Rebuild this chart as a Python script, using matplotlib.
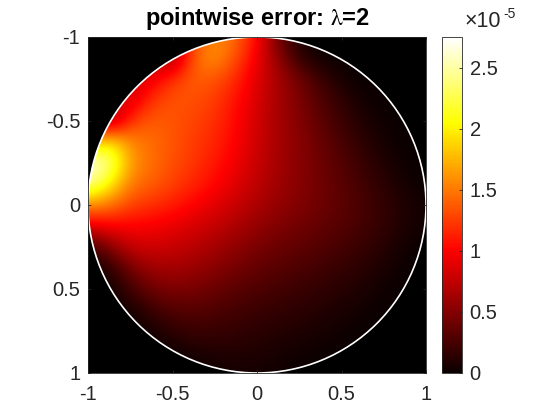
import numpy as np
import matplotlib
matplotlib.use('Agg')
import matplotlib.pyplot as plt
from matplotlib.patches import Circle

plt.rcParams['font.family'] = ['Liberation Sans', 'DejaVu Sans']
plt.rcParams['mathtext.fontset'] = 'stix'

# grid positions of the error readings
x_pos = [-1, -.875, -.75, -.625, -.5, -.375, -.25, -.125, 0, .125, .25, .375, .5, .625, .75, .875, 1]
y_pos = [-1, -.875, -.75, -.625, -.5, -.375, -.25, -.125, 0, .125, .25, .375, .5, .625, .75, .875, 1]

# error, in units of 1e-5, one row per y position
row_m100 = [1.2, 1.2, 1.2, 1.1, .8, 1.3, 1.55, 1.45, 1.05, .4, .05, 0, 0, 0, 0, 0, 0]
row_m088 = [1.2, 1.2, 1.2, .8, .45, 1.4, 1.65, 1.32, .95, .55, .15, .02, 0, 0, 0, 0, 0]
row_m075 = [1.2, 1.2, .8, .9, 1.2, 1.4, 1.35, 1.17, .88, .65, .42, .2, .05, 0, 0, 0, 0]
row_m062 = [1.2, 1.0, .8, 1.2, 1.35, 1.33, 1.25, 1.07, .85, .64, .47, .3, .15, .04, 0, 0, 0]
row_m050 = [1.1, .4, 1.2, 1.38, 1.35, 1.28, 1.2, 1.03, .82, .64, .5, .34, .2, .09, .02, 0, 0]
row_m038 = [1.6, 2.0, 1.55, 1.45, 1.35, 1.25, 1.15, 1.0, .8, .65, .52, .39, .26, .14, .05, 0, 0]
row_m025 = [2.75, 2.45, 1.65, 1.45, 1.33, 1.22, 1.1, .95, .78, .63, .52, .41, .3, .19, .09, .02, 0]
row_m012 = [2.5, 2.05, 1.5, 1.4, 1.27, 1.15, 1.03, .88, .74, .61, .52, .42, .33, .23, .13, .05, 0]
row_000 = [1.6, 1.5, 1.28, 1.2, 1.12, 1.0, .9, .78, .67, .57, .49, .41, .34, .26, .17, .09, .03]
row_p012 = [.9, 1.0, 1.0, .98, .92, .85, .76, .67, .57, .49, .43, .37, .31, .24, .16, .08, .03]
row_p025 = [.2, .5, .78, .82, .78, .72, .64, .55, .46, .4, .35, .3, .25, .19, .12, .04, 0]
row_p038 = [0, .12, .45, .62, .64, .6, .52, .44, .37, .32, .28, .23, .18, .13, .07, .01, 0]
row_p050 = [0, .02, .22, .42, .48, .45, .4, .33, .28, .24, .2, .16, .12, .08, .03, 0, 0]
row_p062 = [0, 0, .05, .2, .3, .32, .28, .24, .2, .17, .14, .11, .07, .04, 0, 0, 0]
row_p075 = [0, 0, 0, .05, .15, .2, .19, .17, .14, .11, .09, .06, .03, .01, 0, 0, 0]
row_p088 = [0, 0, 0, 0, .02, .07, .1, .1, .09, .06, .04, .02, .01, 0, 0, 0, 0]
row_p100 = [0, 0, 0, 0, 0, 0, .02, .05, .05, .03, 0, 0, 0, 0, 0, 0, 0]

error = np.array([row_m100, row_m088, row_m075, row_m062, row_m050, row_m038,
                  row_m025, row_m012, row_000, row_p012, row_p025, row_p038,
                  row_p050, row_p062, row_p075, row_p088, row_p100])

axis_ticks = [-1, -.5, 0, .5, 1]
axis_labels = ['-1', '-0.5', '0', '0.5', '1']
cbar_ticks = [0, .5, 1, 1.5, 2, 2.5]
cbar_labels = ['0', '0.5', '1', '1.5', '2', '2.5']
err_max = 2.75

fig = plt.figure(figsize=(5.6, 4.2), dpi=100)
ax = fig.add_axes([88/560, 1-373/420, 338/560, 336/420], facecolor='k')
cax = fig.add_axes([442/560, 1-373/420, 20/560, 336/420])

half = (x_pos[1]-x_pos[0])/2
im = ax.imshow(error, cmap='hot', vmin=0, vmax=err_max, interpolation='bicubic',
               extent=[x_pos[0]-half, x_pos[-1]+half, y_pos[-1]+half, y_pos[0]-half],
               aspect='auto')
im.set_clip_path(Circle((0, 0), 1, transform=ax.transData))
ax.add_patch(Circle((0, 0), 1, fill=False, edgecolor='w', linewidth=1.2))

ax.set_xlim(-1, 1)
ax.set_ylim(1, -1)
ax.set_xticks(axis_ticks, axis_labels)
ax.set_yticks(axis_ticks, axis_labels)
ax.tick_params(direction='in', length=2.5, width=.6, color='#262626', labelcolor='#262626',
               labelsize=14.5, top=True, right=True)
ax.tick_params(axis='y', pad=5.5)
ax.tick_params(axis='x', pad=9)
for s in ax.spines.values():
    s.set_color('#262626')
    s.set_linewidth(.6)
ax.set_title('pointwise error: $\\mathrm{\\lambda}$=2', fontsize=17, fontweight='bold', color='k', pad=8.5)

cb = fig.colorbar(im, cax=cax)
cb.set_ticks(cbar_ticks, labels=cbar_labels)
cb.ax.tick_params(direction='in', length=2.5, width=.6, color='#262626', labelcolor='#262626',
                  labelsize=14.5, pad=5.5)
cb.outline.set_edgecolor('#262626')
cb.outline.set_linewidth(.6)
fig.text(465/560, 1-27/420, '\u00d710', fontsize=15.5, color='#262626', ha='left', va='baseline')
fig.text(503/560, 1-18/420, '-5', fontsize=10, color='#262626', ha='left', va='baseline')

fig.savefig('out.png', dpi=100)
